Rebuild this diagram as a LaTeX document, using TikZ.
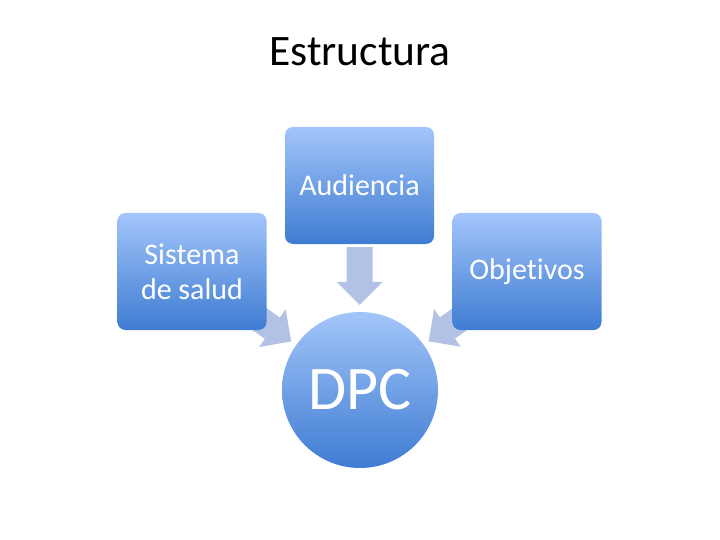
\documentclass[tikz,border=0pt]{standalone}
\usepackage{fontspec}
\setmainfont{Carlito}[Ligatures=NoCommon]
\usetikzlibrary{arrows.meta,backgrounds}
\definecolor{boxtop}{RGB}{163,197,250}
\definecolor{boxbot}{RGB}{62,124,210}
\definecolor{arrowblue}{RGB}{178,194,228}
\begin{document}
\begin{tikzpicture}[x=1pt, y=-1pt,
    box/.style={rectangle, rounded corners=8pt, minimum width=149pt, minimum height=117pt,
        top color=boxtop, bottom color=boxbot, text=white, align=center, inner sep=0pt,
        font=\fontsize{30}{35}\selectfont},
    hub/.style={circle, minimum size=156pt, inner sep=0pt, top color=boxtop, bottom color=boxbot,
        text=white, font=\fontsize{62}{70}\selectfont},
    flow/.style={draw=arrowblue, line width=26pt, -{Triangle[width=46pt,length=23pt,line width=0pt]}}]
    \useasboundingbox (0,0) rectangle (720,540);

    \node (title) at (360,52) {\fontsize{43.5}{50}\selectfont Estructura};
    \node[box] (aud) at (359.5,185.5) {Audiencia};
    \node[box] (sis) at (192,271.5) {Sistema\\de salud};
    \node[box] (obj) at (527,271.5) {Objetivos};
    \node[hub] (dpc) at (360,390) {DPC};

    % arrows go behind the boxes
    \begin{pgfonlayer}{background}
        \draw[flow, shorten <=3pt, shorten >=7pt] (aud) -- (dpc);
        \draw[flow, shorten >=6pt] (sis.center) -- (dpc);
        \draw[flow, shorten >=6pt] (obj.center) -- (dpc);
    \end{pgfonlayer}
\end{tikzpicture}
\end{document}
